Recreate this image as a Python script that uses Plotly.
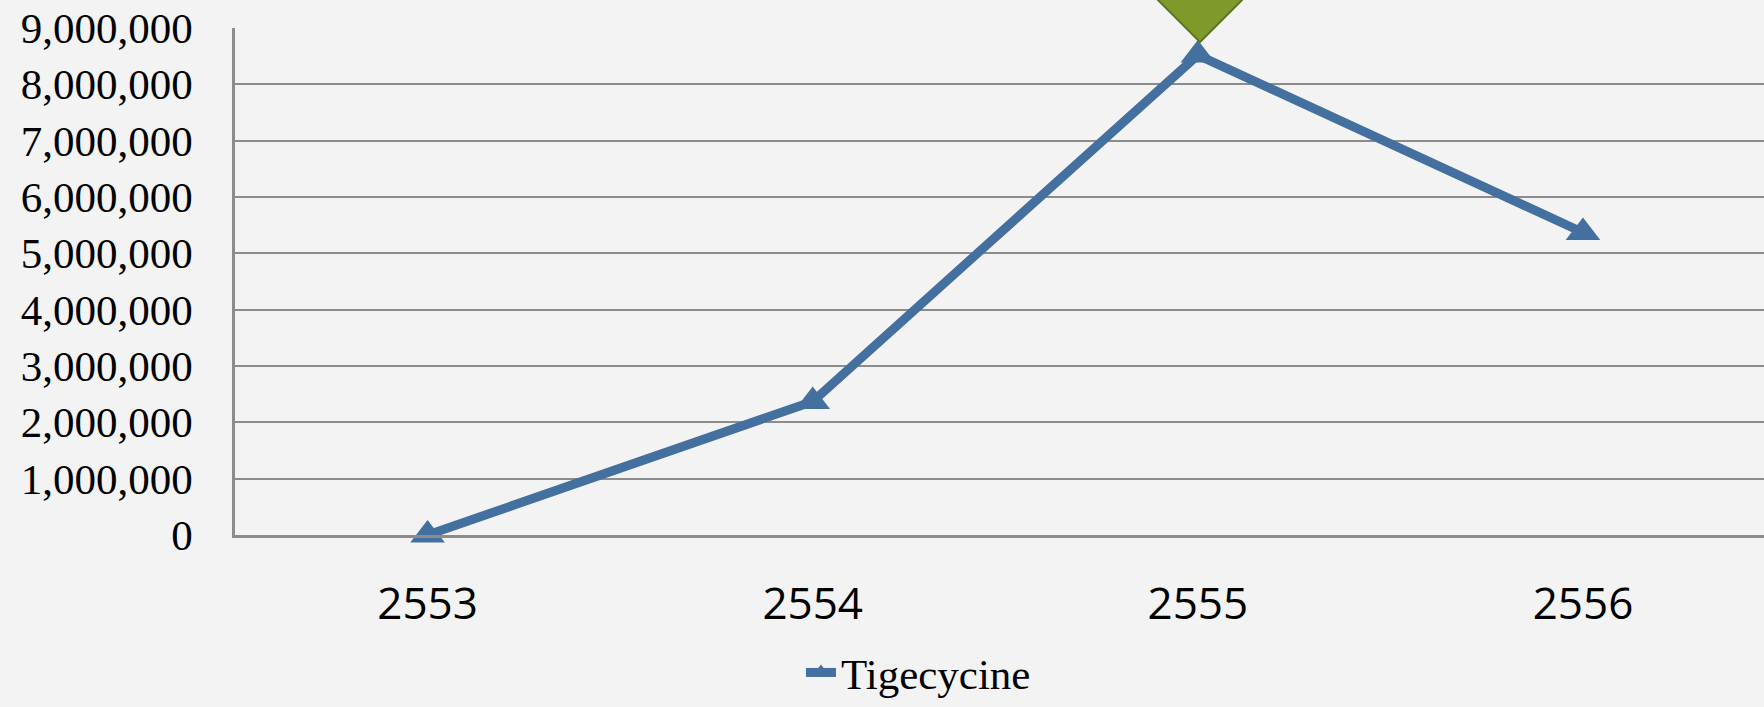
import plotly.graph_objects as go

years = ["2553", "2554", "2555", "2556"]
tigecycine = [0, 2370000, 8520000, 5370000]
y_ticks = [0, 1000000, 2000000, 3000000, 4000000, 5000000, 6000000, 7000000, 8000000, 9000000]
y_tick_labels = ["0", "1,000,000", "2,000,000", "3,000,000", "4,000,000", "5,000,000",
                 "6,000,000", "7,000,000", "8,000,000", "9,000,000"]

W, H = 1764, 707
ML, MR, MT, MB = 235, 0, 28, 171

xpos = list(range(len(years)))

fig = go.Figure()
fig.add_trace(go.Scatter(
    x=xpos, y=tigecycine, name="Tigecycine", mode="lines+markers",
    line=dict(color="#43709f", width=9),
    marker=dict(symbol="triangle-up", size=30, color="#43709f"),
    cliponaxis=False,
))

# decorative green diamond (slide ornament), in paper coords
pw = W - ML - MR
ph = H - MT - MB
def px(x):
    return (x - ML) / pw
def py(y):
    return (H - MB - y) / ph
path = (f"M {px(1200)},{py(42)} L {px(1117)},{py(-41)} L {px(1200)},{py(-124)} "
        f"L {px(1283)},{py(-41)} Z")
fig.add_shape(type="path", xref="paper", yref="paper", path=path,
              fillcolor="#7f9a2a", line=dict(color="#5e7420", width=2), layer="above")

grid = "#8c8c8c"
fig.update_layout(
    width=W, height=H,
    margin=dict(l=ML, r=MR, t=MT, b=MB),
    paper_bgcolor="#f3f3f3", plot_bgcolor="#f3f3f3",
    showlegend=True,
    legend=dict(orientation="h", x=0.447, xanchor="center", y=-0.27, yanchor="middle",
                font=dict(family="Liberation Serif", size=43, color="black"),
                bgcolor="rgba(0,0,0,0)"),
    xaxis=dict(range=[-0.5, 3.47], tickvals=xpos, ticktext=years,
               showgrid=False, zeroline=False, showline=True, linecolor=grid, linewidth=2.5,
               ticks="", ticklabelstandoff=28,
               tickfont=dict(family="Open Sans", size=44, color="black")),
    yaxis=dict(range=[0, 9000000], tickvals=y_ticks, ticktext=y_tick_labels,
               showgrid=True, gridcolor=grid, gridwidth=2, zeroline=False,
               showline=True, linecolor=grid, linewidth=2.5, ticks="",
               ticklabelstandoff=31,
               tickfont=dict(family="Liberation Serif", size=43, color="black")),
)

fig.write_html("out.html", config={"displayModeBar": False},
               post_script="document.body.style.margin='0';document.body.style.overflow='hidden';")
